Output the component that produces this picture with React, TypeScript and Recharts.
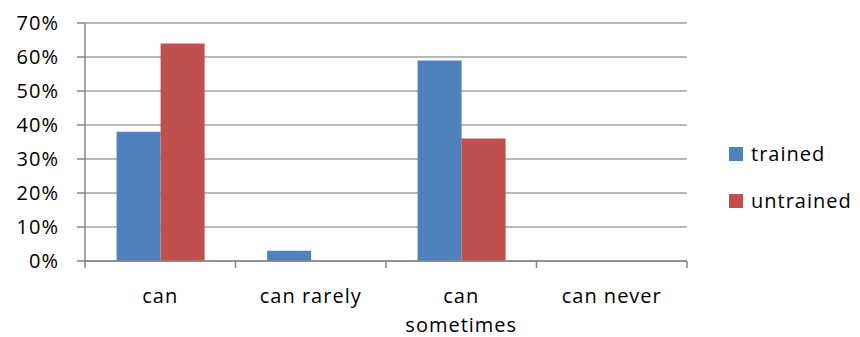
import { BarChart, Bar, XAxis, YAxis, CartesianGrid } from "recharts"

const categories = ["can", "can rarely", "can sometimes", "can never"]
const trained = [38, 3, 59, 0]
const untrained = [64, 0, 36, 0]
const percentTicks = [0, 10, 20, 30, 40, 50, 60, 70]

const data = categories.map((name, i) => ({
  name,
  trained: trained[i],
  untrained: untrained[i],
}))

const FONT = "'Open Sans', sans-serif"
const FONT_SIZE = 20
const SPACING = 1
const BLUE = "#4F81BD"
const RED = "#C0504D"
const AXIS = "#868686"

const WIDTH = 860
const HEIGHT = 337
const MARGIN = { top: 23, right: 173, bottom: 0, left: 0 }
const Y_AXIS_WIDTH = 85
const X_AXIS_HEIGHT = 76
const BAND = (WIDTH - MARGIN.left - MARGIN.right - Y_AXIS_WIDTH) / categories.length

// category label plus the small tick marks at the band edges;
// "can sometimes" wraps onto a second line
const CategoryTick = ({ x, y, payload, index }: any) => {
  const lines = payload.value === "can sometimes" ? ["can", "sometimes"] : [payload.value]
  const edges = index === categories.length - 1 ? [x - BAND / 2, x + BAND / 2] : [x - BAND / 2]
  return (
    <g>
      {edges.map((ex) => (
        <line key={ex} x1={ex} x2={ex} y1={y} y2={y + 7} stroke={AXIS} strokeWidth={1.5} />
      ))}
      <text
        x={x}
        y={y}
        textAnchor="middle"
        fill="#000"
        fontSize={FONT_SIZE}
        fontFamily={FONT}
        style={{ letterSpacing: SPACING }}
      >
        {lines.map((line, i) => (
          <tspan key={line} x={x} dy={i === 0 ? 42 : 29}>
            {line}
          </tspan>
        ))}
      </text>
    </g>
  )
}

const legendItems = [
  { label: "trained", color: BLUE },
  { label: "untrained", color: RED },
]

export default function App() {
  return (
    <div style={{ position: "absolute", left: 0, top: 0, width: WIDTH, height: HEIGHT, background: "#fff" }}>
      <BarChart
        width={WIDTH}
        height={HEIGHT}
        data={data}
        margin={MARGIN}
        barCategoryGap="21%"
        barGap={0}
      >
        <CartesianGrid vertical={false} stroke="#a0a0a0" strokeWidth={1.5} />
        <XAxis
          dataKey="name"
          height={X_AXIS_HEIGHT}
          axisLine={{ stroke: AXIS, strokeWidth: 1.5 }}
          tickLine={false}
          tickSize={0}
          tickMargin={0}
          interval={0}
          tick={<CategoryTick />}
        />
        <YAxis
          width={Y_AXIS_WIDTH}
          domain={[0, 70]}
          ticks={percentTicks}
          interval={0}
          tickFormatter={(v: number) => `${v}%`}
          tickSize={8}
          tickMargin={18}
          axisLine={{ stroke: AXIS, strokeWidth: 1.5 }}
          tickLine={{ stroke: AXIS, strokeWidth: 1.5 }}
          tick={{ fill: "#000", fontSize: FONT_SIZE, fontFamily: FONT, style: { letterSpacing: SPACING } }}
        />
        <Bar dataKey="trained" fill={BLUE} isAnimationActive={false} />
        <Bar dataKey="untrained" fill={RED} isAnimationActive={false} />
      </BarChart>
      <div
        style={{
          position: "absolute",
          left: 729,
          top: 130,
          fontFamily: FONT,
          fontSize: FONT_SIZE,
          letterSpacing: SPACING,
          color: "#000",
        }}
      >
        {legendItems.map((item) => (
          <div key={item.label} style={{ display: "flex", alignItems: "center", height: 47 }}>
            <span style={{ width: 14, height: 14, background: item.color, marginRight: 8 }} />
            <span>{item.label}</span>
          </div>
        ))}
      </div>
    </div>
  )
}
